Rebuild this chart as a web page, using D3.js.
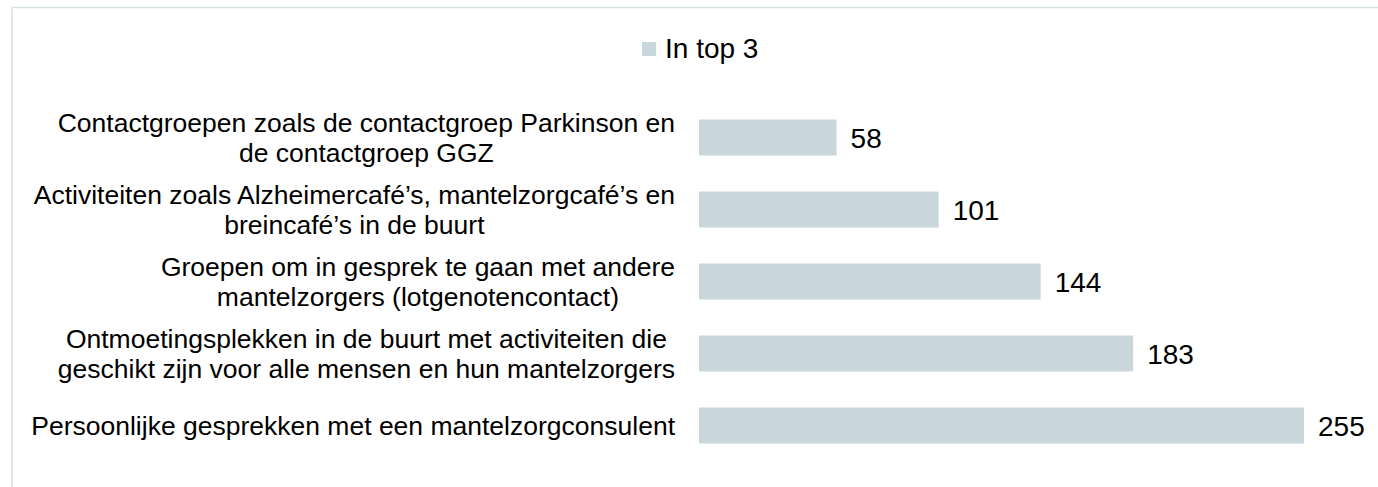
<!DOCTYPE html>
<html>
<head>
<meta charset="utf-8">
<script src="https://d3js.org/d3.v7.min.js"></script>
<style>
    body { margin: 0; background: #ffffff; }
    svg { display: block; font-family: "Liberation Sans", Arial, sans-serif; }
</style>
</head>
<body>
<div id="chartcontainer"></div>
<script>
// chart data
var categories = [
    ["Contactgroepen zoals de contactgroep Parkinson en", "de contactgroep GGZ"],
    ["Activiteiten zoals Alzheimercafé’s, mantelzorgcafé’s en", "breincafé’s in de buurt"],
    ["Groepen om in gesprek te gaan met andere", "mantelzorgers (lotgenotencontact)"],
    ["Ontmoetingsplekken in de buurt met activiteiten die", "geschikt zijn voor alle mensen en hun mantelzorgers"],
    ["Persoonlijke gesprekken met een mantelzorgconsulent"]
];
var values = [58, 101, 144, 183, 255];
var seriesName = "In top 3";

var width = 1378,
    height = 487,
    barColor = "#c9d6dc",
    labelRight = 675;

var svg = d3.select("#chartcontainer").append("svg")
    .attr("width", width)
    .attr("height", height);

// light frame round the chart (right and bottom edge fall outside the picture)
svg.append("rect")
    .attr("x", 12)
    .attr("y", 7.5)
    .attr("width", width)
    .attr("height", height)
    .style("fill", "none")
    .style("stroke", "#d8e1e6")
    .style("stroke-width", 1.5);

// scales
var y = d3.scaleBand()
    .domain(d3.range(categories.length))
    .range([101.5, 461.5])
    .paddingInner(0.5)
    .paddingOuter(0.25);

var x = d3.scaleLinear()
    .domain([0, d3.max(values)])
    .range([699, 1304]);

// bars
svg.selectAll("rect.bar")
    .data(values)
    .enter().append("rect")
    .attr("class", "bar")
    .attr("x", x(0))
    .attr("y", function(d, i) { return y(i); })
    .attr("width", function(d) { return x(d) - x(0); })
    .attr("height", y.bandwidth())
    .style("fill", barColor);

// value labels
svg.selectAll("text.value")
    .data(values)
    .enter().append("text")
    .attr("class", "value")
    .attr("x", function(d) { return x(d) + 14; })
    .attr("y", function(d, i) { return y(i) + y.bandwidth() / 2; })
    .attr("dy", "0.37em")
    .style("font-size", "28px")
    .style("fill", "#000")
    .text(function(d) { return d; });

// category labels: lines centred on each other, block right-aligned next to the bars
var lineHeight = 30.5;
var labels = svg.selectAll("text.label")
    .data(categories)
    .enter().append("text")
    .attr("class", "label")
    .style("font-size", "26.5px")
    .style("fill", "#000")
    .attr("text-anchor", "middle");

labels.each(function(lines, i) {
    var t = d3.select(this);
    var cy = y(i) + y.bandwidth() / 2;
    var first = cy - (lines.length - 1) * lineHeight / 2;
    lines.forEach(function(line, j) {
        t.append("tspan")
            .attr("y", first + j * lineHeight)
            .attr("dy", "0.36em")
            .text(line);
    });
    // widest line decides where the block sits
    var maxW = 0;
    t.selectAll("tspan").each(function() {
        maxW = Math.max(maxW, this.getComputedTextLength());
    });
    t.selectAll("tspan").attr("x", labelRight - maxW / 2);
});

// legend
var legend = svg.append("g")
    .attr("class", "legend");

legend.append("rect")
    .attr("x", 642)
    .attr("y", 42)
    .attr("width", 14)
    .attr("height", 14)
    .style("fill", barColor);

legend.append("text")
    .attr("x", 665)
    .attr("y", 49)
    .attr("dy", "0.33em")
    .style("font-size", "28px")
    .style("fill", "#000")
    .text(seriesName);
</script>
</body>
</html>
